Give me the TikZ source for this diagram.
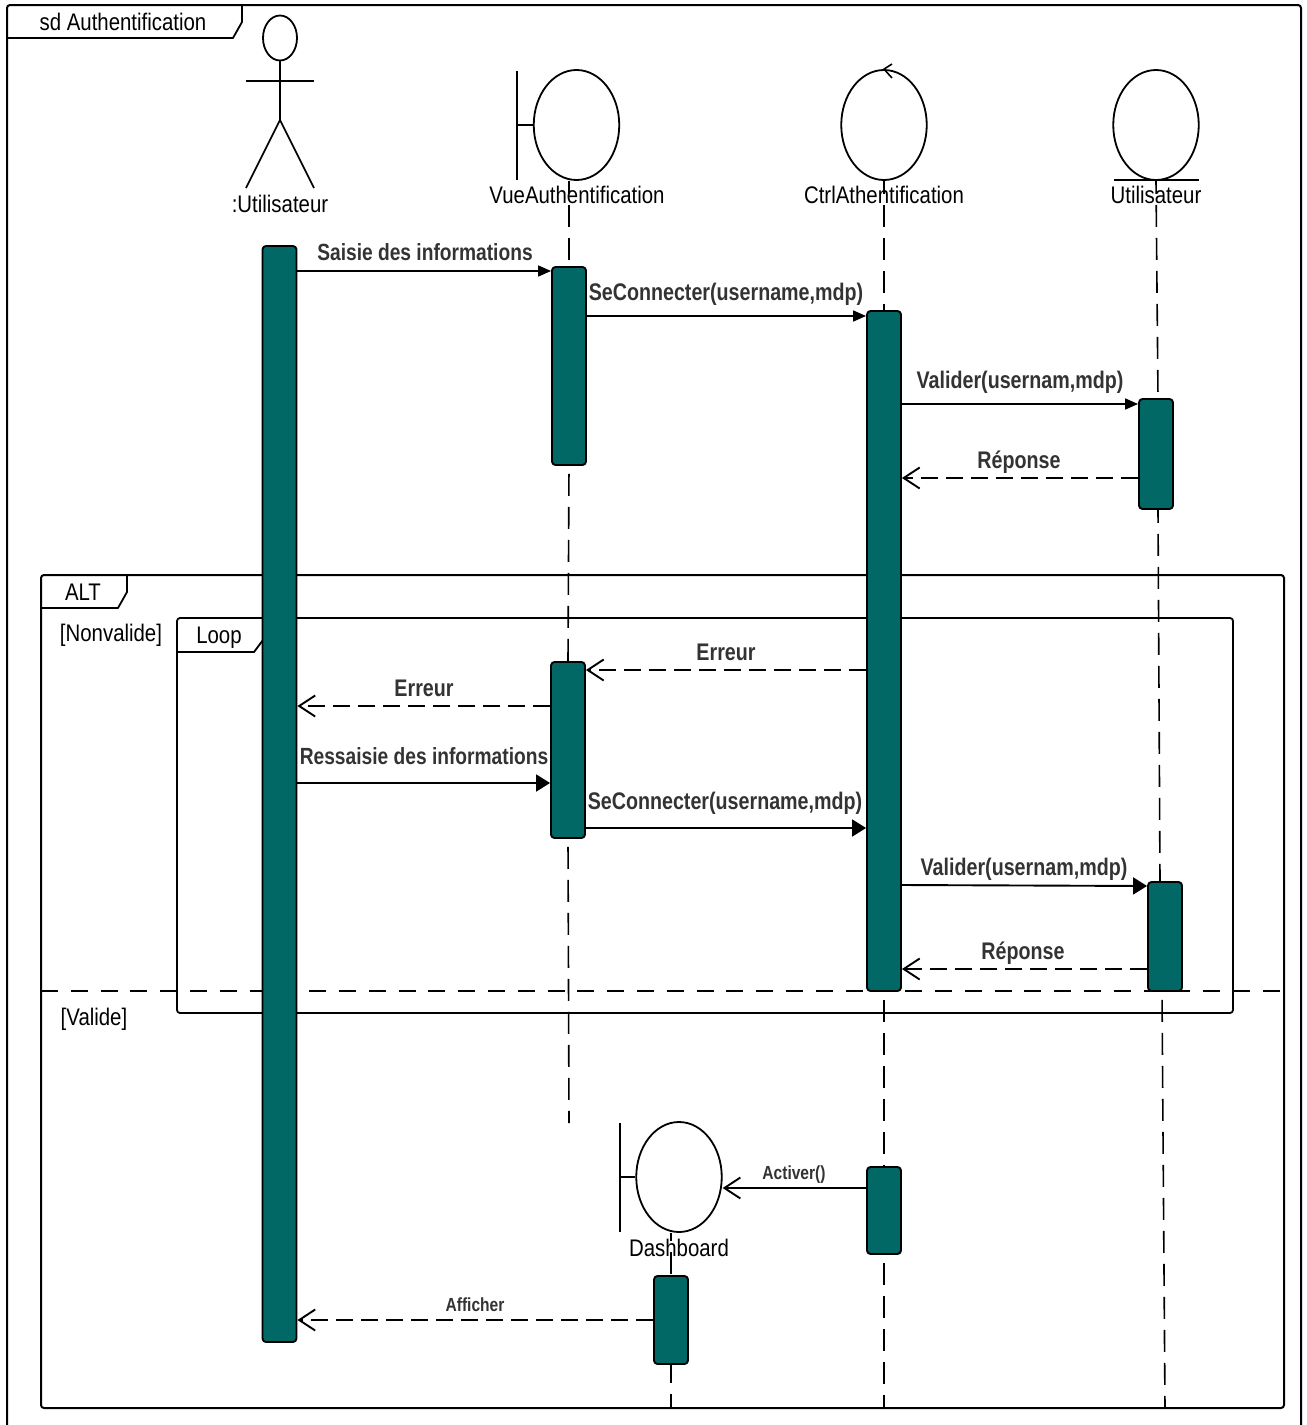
\documentclass[tikz,border=0pt]{standalone}
\usepackage{fontspec}
\usepackage{xcolor}
\usepackage{tikz}
\usetikzlibrary{shapes.geometric,arrows.meta,calc}
\newfontfamily\umlfont[FakeStretch=0.85]{Liberation Sans}
\newfontfamily\msgfont[FakeStretch=0.82]{Liberation Sans}
\definecolor{barteal}{HTML}{026866}
\definecolor{msgtext}{HTML}{333333}

\begin{document}
\begin{tikzpicture}[
    x=1pt,y=-1pt,
    line join=round,
    framebox/.style={line width=2pt,rounded corners=3pt},
    head/.style={draw,ellipse,line width=1.8pt,minimum width=85.5pt,minimum height=110pt,inner sep=0pt},
    lifetext/.style={inner sep=0pt,font=\umlfont\fontsize{24}{24}\selectfont},
    msgtext/.style={inner sep=0pt,text=msgtext,font=\msgfont\bfseries\fontsize{24}{24}\selectfont},
    longtext/.style={msgtext,font=\msgfont\bfseries\fontsize{23.4}{24}\selectfont},
    smalltext/.style={msgtext,font=\msgfont\bfseries\fontsize{19}{19}\selectfont},
    activebar/.style={draw,fill=barteal,line width=1.9pt,rounded corners=3.5pt,minimum width=34pt,inner sep=0pt},
    lifeline/.style={line width=1.6pt,dash pattern=on 22pt off 11pt,dash phase=9pt},
    lifegap/.style={lifeline,dash phase=25pt},
    call/.style={line width=1.7pt,-{Triangle[length=13pt,width=11pt]}},
    bigcall/.style={line width=1.9pt,-{Triangle[length=14pt,width=17pt]}},
    reply/.style={line width=2pt,dash pattern=on 17pt off 8pt,-{Straight Barb[length=16pt,width=21pt,line width=1.9pt]}},
    activate/.style={line width=1.9pt,-{Straight Barb[length=16pt,width=21pt,line width=1.9pt]}}
  ]
    \useasboundingbox (0,0) rectangle (1307,1425);
    % frames
    \draw[framebox] (7,1440) -- (7,5) -- (1301,5) -- (1301,1440);
    \draw[line width=1.8pt] (7,38) -- (233,38) -- (242,22) -- (242,5);
    \draw[framebox] (41,575) rectangle (1284,1408);
    \draw[line width=1.8pt] (41,608) -- (118,608) -- (127,592) -- (127,575);
    \draw[framebox,line width=1.8pt] (177,618) rectangle (1233,1013);
    \draw[line width=1.8pt] (177,652) -- (254,652) -- (263,640);
    \draw[line width=1.6pt,dash pattern=on 17pt off 12.8pt] (41,991) -- (1284,991);
    \node[lifetext] (sdTitle) at (123,22) {sd Authentification};
    \node[lifetext] (altTitle) at (83,592) {ALT};
    \node[lifetext] (loopTitle) at (219,638) {Loop};
    \node[lifetext] (guardNon) at (111,635) {[Nonvalide]};
    \node[lifetext] (guardVal) at (94,1019) {[Valide]};

    % actor
    \node[draw,ellipse,line width=1.8pt,minimum width=34pt,minimum height=45pt,inner sep=0pt] (actorHead) at (280,38) {};
    \coordinate (actorHip) at (280,120);
    \coordinate (armL) at (246,81);
    \coordinate (armR) at (314,81);
    \coordinate (legL) at (246,188);
    \coordinate (legR) at (314,188);
    \draw[line width=1.6pt] (actorHead.south) -- (actorHip);
    \draw[line width=2pt] (armL) -- (armR);
    \draw[line width=1.6pt] (legL) -- (actorHip) -- (legR);
    \node[lifetext] (actorName) at (280,204) {:Utilisateur};

    % heads
    \node[head] (headVue) at (576.5,125) {};
    \coordinate (vueBarTop) at (517,71);
    \coordinate (vueBarEnd) at (517,180);
    \coordinate (vueBarMid) at (517,125);
    \draw[line width=1.8pt] (vueBarTop) -- (vueBarEnd);
    \draw[line width=1.8pt] (vueBarMid) -- (headVue.west);
    \node[lifetext] (nameVue) at (577,195) {VueAuthentification};

    \node[head] (headCtrl) at (884,125) {};
    \coordinate (ctrlTipA) at (892,64);
    \coordinate (ctrlTipB) at (892,78);
    \draw[line width=1.6pt] (ctrlTipA) -- (headCtrl.north) -- (ctrlTipB);
    \node[lifetext] (nameCtrl) at (884,195) {CtrlAthentification};

    \node[head] (headEnt) at (1156,125) {};
    \coordinate (entBaseL) at (1114,180);
    \coordinate (entBaseR) at (1199,180);
    \draw[line width=2pt] (entBaseL) -- (entBaseR);
    \node[lifetext] (nameEnt) at (1156,195) {Utilisateur};

    \node[head] (headDash) at (679,1177) {};
    \coordinate (dashBarTop) at (620,1123);
    \coordinate (dashBarEnd) at (620,1232);
    \coordinate (dashBarMid) at (620,1177);
    \draw[line width=1.8pt] (dashBarTop) -- (dashBarEnd);
    \draw[line width=1.8pt] (dashBarMid) -- (headDash.west);
    \node[lifetext] (nameDash) at (679,1248) {Dashboard};

    % activation bars
    \node[activebar,minimum height=1096pt] (barUser) at (279.5,794) {};
    \node[activebar,minimum height=198pt] (barVueA) at (569,366) {};
    \node[activebar,minimum height=176pt] (barVueB) at (568,750) {};
    \node[activebar,minimum height=680pt] (barCtrlA) at (884,651) {};
    \node[activebar,minimum height=87pt] (barCtrlB) at (884,1210.5) {};
    \node[activebar,minimum height=110pt] (barEntA) at (1156,454) {};
    \node[activebar,minimum height=109pt] (barEntB) at (1165,936.5) {};
    \node[activebar,minimum height=88pt] (barDash) at (671,1320) {};

    % life lines
    \coordinate (vueEnd) at (569,1123);
    \coordinate (ctrlEnd) at (884,1408);
    \coordinate (entEnd) at (1165,1408);
    \coordinate (dashEnd) at (671,1408);
    \draw[lifeline] (barVueA.north |- headVue.south) -- (barVueA.north);
    \draw[lifegap] (barVueA.south) -- (barVueB.north);
    \draw[lifegap] (barVueB.south) -- (vueEnd);
    \draw[lifeline] (headCtrl.south) -- (barCtrlA.north);
    \draw[lifegap] (barCtrlA.south) -- (barCtrlB.north);
    \draw[lifegap] (barCtrlB.south) -- (ctrlEnd);
    \draw[lifeline] (headEnt.south) -- ($(barEntA.north)+(2,0)$);
    \draw[lifeline] ($(barEntA.south)+(2,0)$) -- ($(barEntB.north)+(-5,0)$);
    \draw[lifegap] ($(barEntB.south)+(-3,0)$) -- (entEnd);
    \draw[lifeline,dash phase=14pt] (barDash |- headDash.south) -- (barDash.north);
    \draw[lifeline,dash phase=4pt] (barDash.south) -- (dashEnd);

    % messages
    \draw[call] (barUser.east |- 0,271) -- (barVueA.west |- 0,271);
    \node[longtext] (msgSaisie) at (425,252.5) {Saisie des informations};
    \draw[call] (barVueA.east |- 0,316) -- (barCtrlA.west |- 0,316);
    \node[msgtext] (msgConnectA) at (726,294) {SeConnecter(username,mdp)};
    \draw[call] (barCtrlA.east |- 0,404) -- (barEntA.west |- 0,404);
    \node[msgtext] (msgValiderA) at (1020,382) {Valider(usernam,mdp)};
    \draw[reply] (barEntA.west |- 0,478) -- (barCtrlA.east |- 0,478);
    \node[msgtext] (msgReponseA) at (1019,462) {Réponse};
    \draw[reply] (barCtrlA.west |- 0,670) -- (barVueB.east |- 0,670);
    \node[msgtext] (msgErreurA) at (726,652) {Erreur};
    \draw[reply] (barVueB.west |- 0,706) -- (barUser.east |- 0,706);
    \node[msgtext] (msgErreurB) at (424,688) {Erreur};
    \draw[bigcall] (barUser.east |- 0,783) -- (barVueB.west |- 0,783);
    \node[longtext] (msgRessaisie) at (424,756) {Ressaisie des informations};
    \draw[bigcall] (barVueB.east |- 0,828) -- (barCtrlA.west |- 0,828);
    \node[msgtext] (msgConnectB) at (725,803) {SeConnecter(username,mdp)};
    \draw[bigcall] (barCtrlA.east |- 0,885) -- (barEntB.west |- 0,886);
    \node[msgtext] (msgValiderB) at (1024,869) {Valider(usernam,mdp)};
    \draw[reply] (barEntB.west |- 0,969) -- (barCtrlA.east |- 0,969);
    \node[msgtext] (msgReponseB) at (1023,953) {Réponse};
    \draw[activate] (barCtrlB.west |- 0,1188) -- (headDash.east |- 0,1188);
    \node[smalltext] (msgActiver) at (794,1175) {Activer()};
    \draw[reply] (barDash.west |- 0,1320) -- (barUser.east |- 0,1320);
    \node[smalltext] (msgAfficher) at (475,1305) {Afficher};
  \end{tikzpicture}
\end{document}
